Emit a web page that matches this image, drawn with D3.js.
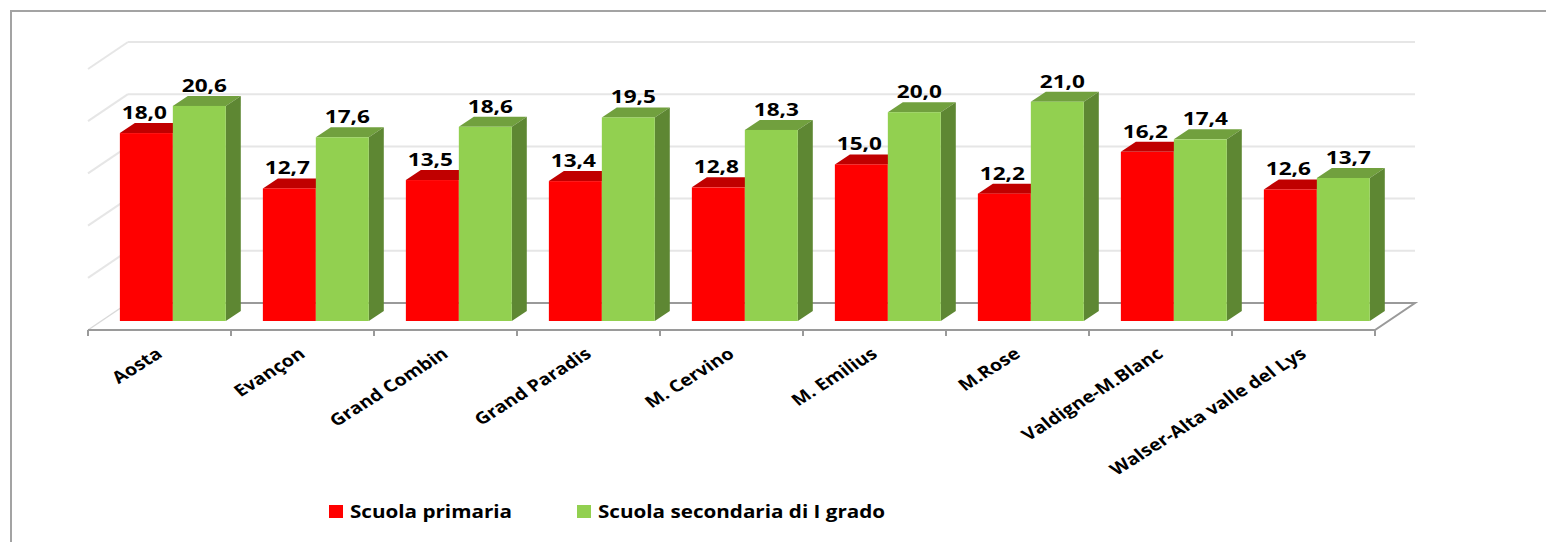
<!DOCTYPE html>
<html>
<head>
<meta charset="utf-8">
<script src="https://cdn.jsdelivr.net/npm/d3@7"></script>
<style>
    html, body { margin: 0; padding: 0; background: #fff; }
    svg { display: block; font-family: "Open Sans", "DejaVu Sans", sans-serif; }
</style>
</head>
<body>
<svg id="chart" width="1546" height="542"></svg>
<script>
// 3D clustered column chart: primary vs lower-secondary school, by area

const categories = ['Aosta', 'Evançon', 'Grand Combin', 'Grand Paradis', 'M. Cervino',
    'M. Emilius', 'M.Rose', 'Valdigne-M.Blanc', 'Walser-Alta valle del Lys'];
const seriesNames = ['Scuola primaria', 'Scuola secondaria di I grado'];
const primaria = [18.0, 12.7, 13.5, 13.4, 12.8, 15.0, 12.2, 16.2, 12.6];
const secondaria = [20.6, 17.6, 18.6, 19.5, 18.3, 20.0, 21.0, 17.4, 13.7];
const yTicks = [0, 5, 10, 15, 20, 25];

const colors = {
    front: ['#ff0000', '#92d050'],
    top: ['#c00000', '#71a03e'],
    side: ['#a00000', '#5e8733']
};

const svg = d3.select('#chart');

// floor geometry (front edge, full depth offset)
const floorX0 = 88, floorX1 = 1375, floorY = 330;
const depthX = 40, depthY = 27;
const frontT = 1 / 3;          // bar front plane as fraction of floor depth
const barDX = 15, barDY = 10;  // bar depth

const x = d3.scaleBand().domain(categories).range([floorX0, floorX1]).padding(0);
const xs = d3.scaleBand().domain(seriesNames).range([0, x.bandwidth()])
    .paddingInner(0).paddingOuter(0.35);
const h = d3.scaleLinear().domain([0, 25]).range([0, 261]);

const backBase = floorY - depthY;
const frontBase = floorY - depthY * frontT;
const frontShift = depthX * frontT;

const fmt = v => d3.format('.1f')(v).replace('.', ',');

// chart border (only top and left visible)
svg.append('rect')
    .attr('x', 11).attr('y', 11).attr('width', 1600).attr('height', 600)
    .attr('fill', 'none').attr('stroke', '#a3a3a3').attr('stroke-width', 2);

// back wall and side wall gridlines
const grid = svg.append('g');
yTicks.filter(t => t > 0).forEach(t => {
    const yb = backBase - h(t);
    grid.append('line')
        .attr('x1', floorX0 + depthX).attr('x2', floorX1 + depthX)
        .attr('y1', yb).attr('y2', yb)
        .attr('stroke', '#e6e6e6').attr('stroke-width', 2);
    grid.append('line')
        .attr('x1', floorX0).attr('y1', yb + depthY)
        .attr('x2', floorX0 + depthX).attr('y2', yb)
        .attr('stroke', '#e6e6e6').attr('stroke-width', 2);
});

// floor
grid.append('line')
    .attr('x1', floorX0).attr('y1', floorY)
    .attr('x2', floorX0 + depthX).attr('y2', backBase)
    .attr('stroke', '#d9d9d9').attr('stroke-width', 1.5);
grid.append('path')
    .attr('d', `M${floorX0 + depthX},${backBase}H${floorX1 + depthX}L${floorX1},${floorY}H${floorX0}`)
    .attr('fill', 'none').attr('stroke', '#9a9a9a').attr('stroke-width', 2);

// category ticks
grid.selectAll('.tick')
    .data(d3.range(categories.length + 1))
    .enter().append('line')
    .attr('x1', i => floorX0 + i * x.step()).attr('x2', i => floorX0 + i * x.step())
    .attr('y1', floorY).attr('y2', floorY + 6)
    .attr('stroke', '#9a9a9a').attr('stroke-width', 2);

// bars
const bars = [];
categories.forEach((c, i) => {
    [primaria[i], secondaria[i]].forEach((v, s) => {
        bars.push({ cat: c, s: s, v: v, x0: x(c) + xs(seriesNames[s]) + frontShift, w: xs.bandwidth() });
    });
});

const barG = svg.append('g');
bars.forEach(d => {
    const yTop = frontBase - h(d.v);
    const g = barG.append('g');
    g.append('path')
        .attr('d', `M${d.x0},${yTop}L${d.x0 + barDX},${yTop - barDY}H${d.x0 + d.w + barDX}L${d.x0 + d.w},${yTop}Z`)
        .attr('fill', colors.top[d.s]);
    g.append('path')
        .attr('d', `M${d.x0 + d.w},${yTop}L${d.x0 + d.w + barDX},${yTop - barDY}V${frontBase - barDY}L${d.x0 + d.w},${frontBase}Z`)
        .attr('fill', colors.side[d.s]);
    g.append('rect')
        .attr('x', d.x0).attr('y', yTop)
        .attr('width', d.w).attr('height', h(d.v))
        .attr('fill', colors.front[d.s]);
});

// value labels
const labelShift = [-2, 5];
svg.append('g').selectAll('text')
    .data(bars)
    .enter().append('text')
    .attr('transform', d => `translate(${d.x0 + d.w / 2 + labelShift[d.s]},${frontBase - h(d.v) - 14}) scale(1.22,1)`)
    .attr('text-anchor', 'middle')
    .attr('font-size', 18.5).attr('font-weight', 700).attr('fill', '#000')
    .text(d => fmt(d.v));

// category labels
svg.append('g').selectAll('text')
    .data(categories)
    .enter().append('text')
    .attr('transform', c => `translate(${x(c) + x.bandwidth() / 2 + 4},356) scale(1.2,1) rotate(-37)`)
    .attr('text-anchor', 'end')
    .attr('font-size', 16.5).attr('font-weight', 700).attr('fill', '#000')
    .text(c => c);

// legend
const legendX = [329, 577];
const legend = svg.append('g').selectAll('g')
    .data(seriesNames)
    .enter().append('g')
    .attr('transform', (d, i) => `translate(${legendX[i]},505)`);
legend.append('rect')
    .attr('width', 14).attr('height', 13)
    .attr('fill', (d, i) => colors.front[i]);
legend.append('text')
    .attr('transform', 'translate(21,13) scale(1.18,1)')
    .attr('font-size', 17.5).attr('font-weight', 700).attr('fill', '#000')
    .text(d => d);
</script>
</body>
</html>
